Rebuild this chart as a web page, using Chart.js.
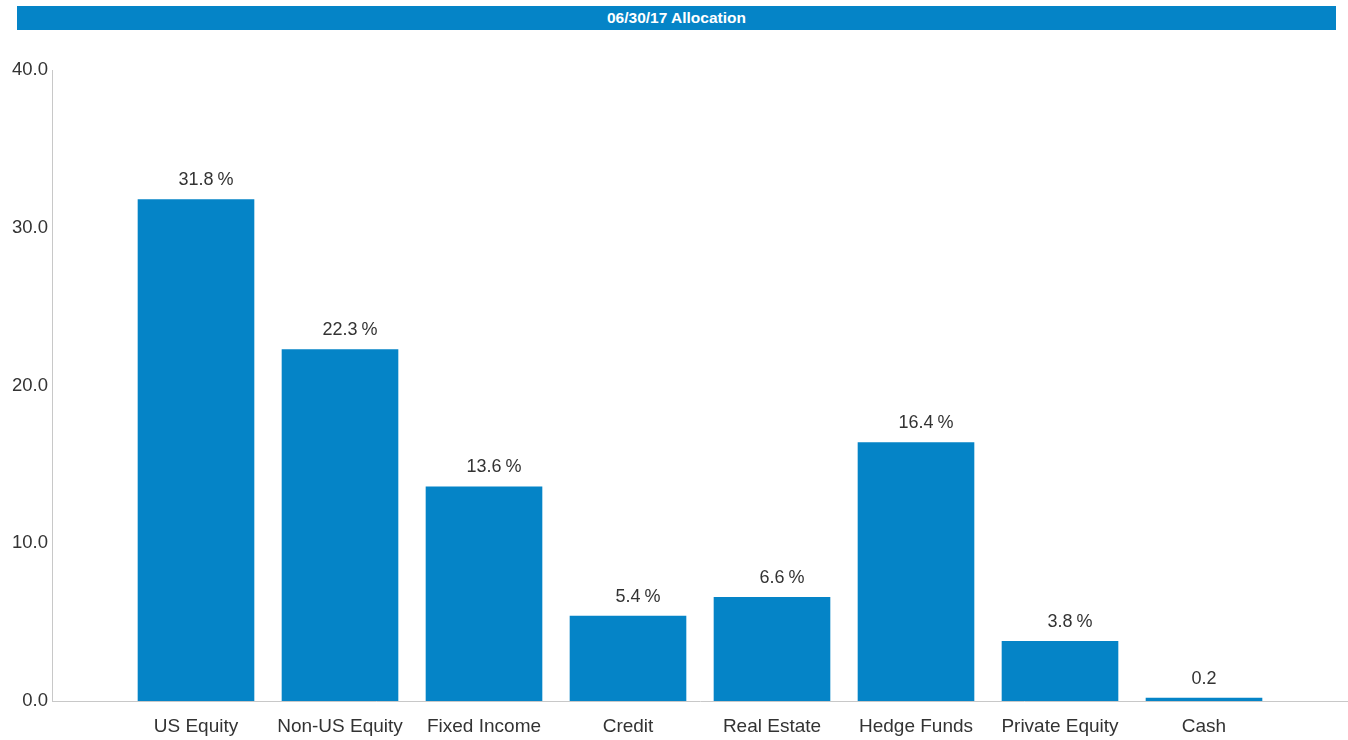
<!DOCTYPE html>
<html>
<head>
<meta charset="utf-8">
<script src="https://cdn.jsdelivr.net/npm/chart.js@4"></script>
<style>
  body { margin: 0; background: #fff; }
  #wrap { position: relative; width: 1348px; height: 740px; }
  #titulo {
    position: absolute; left: 17px; top: 6px; width: 1319px; height: 24px;
    font: bold 15.5px Arial, "Liberation Sans", sans-serif;
    line-height: 24px; background: #0584c7; color: #fff; text-align: center;
  }
  canvas { position: absolute; left: 0; top: 0; }
</style>
</head>
<body>
<div id="wrap">
  <canvas id="dash" width="1348" height="740"></canvas>
  <div id="titulo">06/30/17 Allocation</div>
</div>
<script>
const categorias = ['US Equity', 'Non-US Equity', 'Fixed Income', 'Credit', 'Real Estate', 'Hedge Funds', 'Private Equity', 'Cash'];
const valores = [31.8, 22.3, 13.6, 5.4, 6.6, 16.4, 3.8, 0.2];
const sufixos = ['%', '%', '%', '%', '%', '%', '%', ''];
const yTicks = [0, 10, 20, 30, 40];

const fonte = 'Arial, "Liberation Sans", sans-serif';
const azul = '#0584c7';

// rótulos em cima das barras
const rotulos = {
  id: 'rotulos',
  afterDatasetsDraw(chart) {
    const ctx = chart.ctx;
    const meta = chart.getDatasetMeta(0);
    ctx.save();
    ctx.font = '18px ' + fonte;
    ctx.fillStyle = '#333';
    ctx.textBaseline = 'alphabetic';
    meta.data.forEach((bar, i) => {
      const txt = valores[i].toFixed(1);
      const w = ctx.measureText(txt).width;
      ctx.textAlign = 'center';
      ctx.fillText(txt, bar.x, bar.y - 14);
      if (sufixos[i]) {
        ctx.textAlign = 'left';
        ctx.fillText(sufixos[i], bar.x + w / 2 + 4, bar.y - 14);
      }
    });
    ctx.restore();
  }
};

new Chart(document.getElementById('dash'), {
  type: 'bar',
  data: {
    datasets: [
      {
        data: categorias.map((c, i) => ({ x: i, y: valores[i] })),
        backgroundColor: azul,
        borderWidth: 0,
        barPercentage: 0.81,
        categoryPercentage: 1,
      },
    ],
  },
  options: {
    responsive: false,
    devicePixelRatio: 1,
    animation: false,
    layout: { padding: { top: 70, left: 0, right: 0, bottom: 0 } },
    scales: {
      x: {
        type: 'linear',
        min: -1,
        max: 8,
        offset: false,
        grid: { display: false, drawTicks: false },
        border: { display: true, color: '#c8c8c8', width: 1 },
        afterBuildTicks: (scale) => {
          scale.ticks = categorias.map((c, i) => ({ value: i }));
        },
        afterFit: (scale) => { scale.height = 39; },
        ticks: {
          autoSkip: false,
          maxRotation: 0,
          padding: 14,
          color: '#333',
          font: { size: 19, family: fonte },
          callback: (v) => categorias[v] ?? '',
        },
      },
      y: {
        min: 0,
        max: 40,
        grid: { display: false, drawTicks: false },
        border: { display: true, color: '#c8c8c8', width: 1 },
        afterBuildTicks: (scale) => {
          scale.ticks = yTicks.map((v) => ({ value: v }));
        },
        afterFit: (scale) => { scale.width = 52; },
        ticks: {
          padding: 4,
          color: '#333',
          font: { size: 18.5, family: fonte },
          callback: (v) => v.toFixed(1),
        },
      },
    },
    plugins: {
      legend: { display: false },
      tooltip: { enabled: false },
      title: { display: false },
    },
  },
  plugins: [rotulos],
});
</script>
</body>
</html>
